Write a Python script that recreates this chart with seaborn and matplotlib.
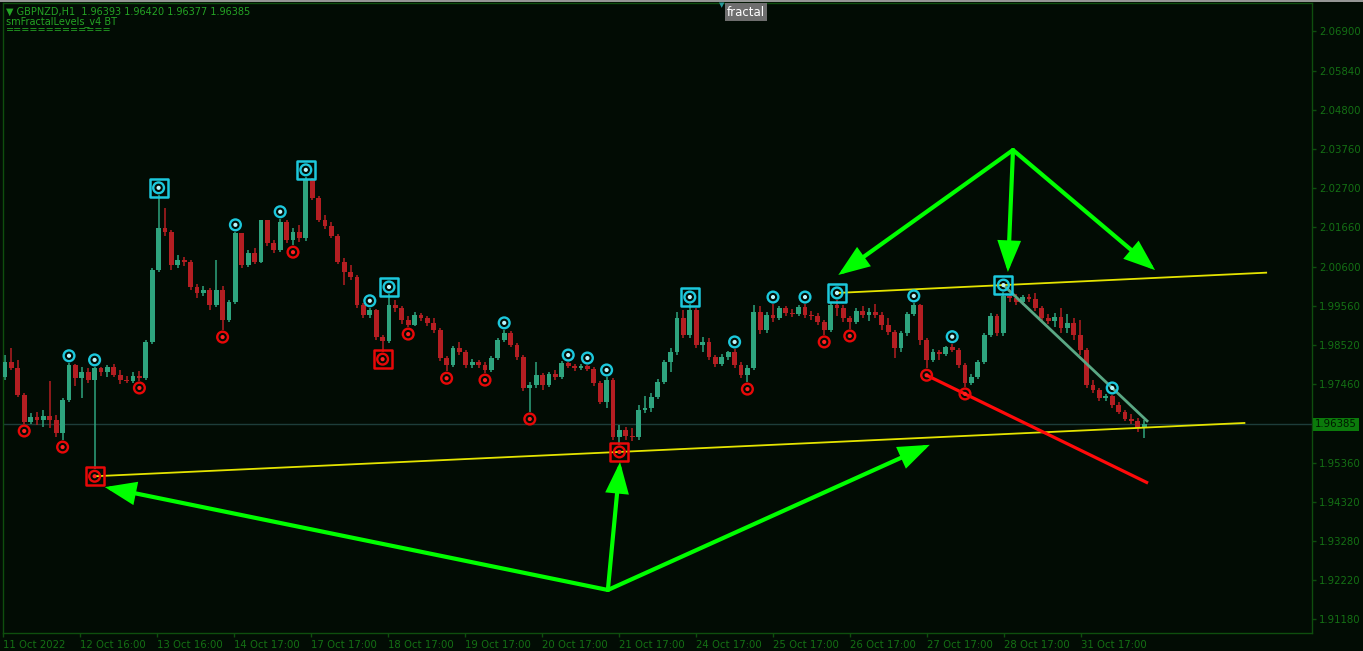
import numpy as np
import pandas as pd
import matplotlib
matplotlib.use("Agg")
import matplotlib.pyplot as plt
import seaborn as sns
from matplotlib.patches import FancyArrowPatch
from matplotlib.lines import Line2D
from matplotlib.transforms import blended_transform_factory

# ---------------- data (GBPNZD H1, two-hour candles) ----------------
first_open = 1.9765
closes = [1.9805, 1.9789, 1.9717, 1.9645, 1.9658, 1.9650, 1.9661, 1.9650, 1.9616, 1.9704,
          1.9797, 1.9763, 1.9779, 1.9757, 1.9789, 1.9779, 1.9792, 1.9771, 1.9757, 1.9755,
          1.9768, 1.9763, 1.9859, 2.0051, 2.0164, 2.0153, 2.0065, 2.0078, 2.0073, 2.0006,
          1.9990, 1.9998, 1.9958, 1.9998, 1.9918, 1.9966, 2.0150, 2.0065, 2.0097, 2.0073,
          2.0185, 2.0124, 2.0105, 2.0180, 2.0132, 2.0153, 2.0137, 2.0292, 2.0244, 2.0185,
          2.0169, 2.0142, 2.0073, 2.0046, 2.0033, 1.9958, 1.9931, 1.9944, 1.9872, 1.9862,
          1.9958, 1.9950, 1.9918, 1.9904, 1.9931, 1.9923, 1.9910, 1.9891, 1.9816, 1.9797,
          1.9843, 1.9832, 1.9797, 1.9805, 1.9797, 1.9784, 1.9816, 1.9864, 1.9883, 1.9851,
          1.9819, 1.9736, 1.9744, 1.9771, 1.9744, 1.9773, 1.9765, 1.9803, 1.9795, 1.9789,
          1.9795, 1.9787, 1.9749, 1.9699, 1.9757, 1.9605, 1.9624, 1.9608, 1.9605, 1.9677,
          1.9682, 1.9712, 1.9752, 1.9805, 1.9832, 1.9923, 1.9878, 1.9944, 1.9851, 1.9859,
          1.9819, 1.9800, 1.9819, 1.9832, 1.9797, 1.9771, 1.9789, 1.9939, 1.9891, 1.9931,
          1.9923, 1.9950, 1.9936, 1.9934, 1.9952, 1.9931, 1.9928, 1.9912, 1.9891, 1.9958,
          1.9950, 1.9923, 1.9912, 1.9942, 1.9931, 1.9939, 1.9931, 1.9904, 1.9886, 1.9843,
          1.9883, 1.9934, 1.9958, 1.9864, 1.9811, 1.9832, 1.9827, 1.9846, 1.9837, 1.9797,
          1.9749, 1.9765, 1.9805, 1.9878, 1.9928, 1.9883, 1.9982, 1.9976, 1.9966, 1.9979,
          1.9974, 1.9950, 1.9923, 1.9915, 1.9926, 1.9896, 1.9910, 1.9878, 1.9837, 1.9744,
          1.9731, 1.9709, 1.9715, 1.9690, 1.9672, 1.9653, 1.9648, 1.9629, 1.96385]
highs = [1.9824, 1.9843, 1.9811, 1.9723, 1.9669, 1.9672, 1.9677, 1.9755, 1.9664, 1.9709,
         1.9803, 1.9800, 1.9792, 1.9789, 1.9792, 1.9791, 1.9797, 1.9800, 1.9784, 1.9768,
         1.9779, 1.9781, 1.9864, 2.0057, 2.0252, 2.0217, 2.0158, 2.0091, 2.0086, 2.0078,
         2.0014, 2.0009, 2.0003, 2.0078, 2.0009, 1.9971, 2.0153, 2.0151, 2.0105, 2.0110,
         2.0185, 2.0186, 2.0132, 2.0188, 2.0185, 2.0164, 2.0172, 2.0300, 2.0297, 2.0249,
         2.0198, 2.0180, 2.0148, 2.0083, 2.0065, 2.0038, 1.9963, 1.9950, 1.9947, 1.9878,
         1.9987, 1.9971, 1.9955, 1.9928, 1.9939, 1.9936, 1.9928, 1.9923, 1.9896, 1.9821,
         1.9848, 1.9859, 1.9837, 1.9813, 1.9811, 1.9805, 1.9821, 1.9870, 1.9891, 1.9888,
         1.9856, 1.9824, 1.9752, 1.9805, 1.9776, 1.9779, 1.9784, 1.9808, 1.9805, 1.9800,
         1.9800, 1.9797, 1.9792, 1.9755, 1.9765, 1.9763, 1.9637, 1.9632, 1.9629, 1.9690,
         1.9715, 1.9723, 1.9760, 1.9811, 1.9843, 1.9939, 1.9944, 1.9960, 1.9950, 1.9872,
         1.9870, 1.9824, 1.9827, 1.9835, 1.9840, 1.9805, 1.9797, 1.9958, 1.9955, 1.9939,
         1.9960, 1.9955, 1.9955, 1.9947, 1.9958, 1.9960, 1.9942, 1.9936, 1.9918, 1.9966,
         1.9971, 1.9958, 1.9928, 1.9950, 1.9955, 1.9950, 1.9960, 1.9939, 1.9923, 1.9891,
         1.9888, 1.9939, 1.9963, 1.9960, 1.9870, 1.9840, 1.9837, 1.9848, 1.9854, 1.9843,
         1.9803, 1.9773, 1.9811, 1.9883, 1.9936, 1.9934, 1.9992, 1.9987, 1.9987, 1.9984,
         1.9987, 1.9990, 1.9955, 1.9934, 1.9936, 1.9950, 1.9934, 1.9923, 1.9918, 1.9843,
         1.9757, 1.9736, 1.9720, 1.9717, 1.9699, 1.9677, 1.9666, 1.9656, 1.9650]
lows = [1.9757, 1.9784, 1.9712, 1.9640, 1.9640, 1.9637, 1.9632, 1.9629, 1.9605, 1.9597,
        1.9699, 1.9741, 1.9709, 1.9749, 1.9519, 1.9768, 1.9765, 1.9765, 1.9747, 1.9749,
        1.9749, 1.9755, 1.9757, 1.9854, 2.0046, 2.0142, 2.0051, 2.0057, 2.0062, 1.9998,
        1.9976, 1.9982, 1.9944, 1.9952, 1.9891, 1.9912, 1.9960, 2.0057, 2.0059, 2.0067,
        2.0070, 2.0115, 2.0097, 2.0099, 2.0124, 2.0118, 2.0126, 2.0129, 2.0238, 2.0180,
        2.0161, 2.0137, 2.0067, 2.0011, 2.0025, 1.9950, 1.9923, 1.9923, 1.9864, 1.9832,
        1.9856, 1.9939, 1.9907, 1.9899, 1.9902, 1.9915, 1.9902, 1.9883, 1.9808, 1.9781,
        1.9792, 1.9824, 1.9789, 1.9789, 1.9789, 1.9776, 1.9779, 1.9811, 1.9859, 1.9846,
        1.9811, 1.9728, 1.9672, 1.9736, 1.9731, 1.9739, 1.9757, 1.9760, 1.9789, 1.9781,
        1.9784, 1.9781, 1.9741, 1.9693, 1.9682, 1.9597, 1.9584, 1.9597, 1.9594, 1.9597,
        1.9669, 1.9672, 1.9707, 1.9747, 1.9779, 1.9824, 1.9870, 1.9870, 1.9843, 1.9832,
        1.9811, 1.9792, 1.9795, 1.9811, 1.9789, 1.9763, 1.9752, 1.9784, 1.9880, 1.9883,
        1.9912, 1.9918, 1.9928, 1.9926, 1.9928, 1.9923, 1.9918, 1.9904, 1.9878, 1.9886,
        1.9928, 1.9912, 1.9894, 1.9907, 1.9923, 1.9915, 1.9923, 1.9891, 1.9878, 1.9816,
        1.9832, 1.9875, 1.9928, 1.9851, 1.9789, 1.9805, 1.9811, 1.9821, 1.9832, 1.9789,
        1.9739, 1.9744, 1.9760, 1.9800, 1.9872, 1.9875, 1.9875, 1.9966, 1.9958, 1.9958,
        1.9966, 1.9942, 1.9915, 1.9907, 1.9899, 1.9883, 1.9883, 1.9864, 1.9824, 1.9736,
        1.9723, 1.9701, 1.9701, 1.9682, 1.9666, 1.9648, 1.9640, 1.9618, 1.9602]

fractal_high_idx = [10, 14, 36, 43, 57, 78, 88, 91, 94, 114, 120, 125, 142, 148, 173]
fractal_high_box_idx = [24, 47, 60, 107, 130, 156]
fractal_low_idx = [3, 9, 21, 34, 45, 63, 69, 75, 82, 116, 128, 132, 144, 150]
fractal_low_box_idx = [14, 59, 96]

# trend lines: (kind, first fractal, second fractal, extend-to bar)
trend_kinds = ["low", "high", "low", "high"]
trend_anchors = [(14, 96), (130, 156), (144, 150), (156, 173)]
trend_ends = [193.8, 197.2, 178.6, 178.6]

# hand-drawn call-out arrows (tail, head) in (bar, price)
callouts = [((94.2, 1.9196), (15.6, 1.9471)),
            ((94.2, 1.9196), (96.1, 1.9538)),
            ((94.2, 1.9196), (144.5, 1.9584)),
            ((157.5, 2.0372), (130.2, 2.0038)),
            ((157.5, 2.0372), (156.7, 2.0046)),
            ((157.5, 2.0372), (179.7, 2.0051))]

x_tick_labels = ["11 Oct 2022", "12 Oct 16:00", "13 Oct 16:00", "14 Oct 17:00", "17 Oct 17:00",
                 "18 Oct 17:00", "19 Oct 17:00", "20 Oct 17:00", "21 Oct 17:00", "24 Oct 17:00",
                 "25 Oct 17:00", "26 Oct 17:00", "27 Oct 17:00", "28 Oct 17:00", "31 Oct 17:00"]
y_tick_values = [2.06900, 2.05840, 2.04800, 2.03760, 2.02700, 2.01660, 2.00600, 1.99560,
                 1.98520, 1.97460, 1.95360, 1.94320, 1.93280, 1.92220, 1.91180]
current_price = 1.96385
header_text = "\u25bc GBPNZD,H1  1.96393 1.96420 1.96377 1.96385"

# ---------------- styling ----------------
BG = "#020c04"
FRAME = "#0e4e0e"
TICKTXT = "#147014"
BULL = "#2ea47e"
BEAR = "#b41e22"
CYAN = "#1cc8dc"
RED = "#e80808"
YELLOW = "#e4e400"
LIME = "#00ff00"
TEAL = "#5aa884"
OFF = 0.0019  # marker offset from the candle extreme

sns.set_theme(style="dark")
plt.rcParams["font.family"] = ["DejaVu Sans"]

W_PX, H_PX = 1363, 651
fig = plt.figure(figsize=(W_PX / 100, H_PX / 100), dpi=100, facecolor=BG)
left, right, top, bottom = 3, 1312, 3, 633
ax = fig.add_axes([left / W_PX, 1 - bottom / H_PX, (right - left) / W_PX, (bottom - top) / H_PX])
ax.set_facecolor(BG)
ax.grid(False)

df = pd.DataFrame({"close": closes, "high": highs, "low": lows})
df["open"] = [first_open] + closes[:-1]
df["bar"] = np.arange(len(df))
df["bull"] = df["close"] >= df["open"]
colors = np.where(df["bull"], BULL, BEAR)

# current price line
ax.axhline(current_price, color="#1d3d3a", lw=1.0, zorder=1)

# candles
ax.vlines(df["bar"], df["low"], df["high"], colors=colors, lw=1.1, zorder=2)
body_lo = np.minimum(df["open"], df["close"])
body_h = np.maximum(np.abs(df["close"] - df["open"]), 0.00025)
ax.bar(df["bar"], body_h, bottom=body_lo, width=0.72, color=colors, linewidth=0, zorder=3)

# trend / level lines through fractal markers
trend_styles = [dict(color=YELLOW, lw=1.3), dict(color=YELLOW, lw=1.3),
                dict(color="#ff0a0a", lw=2.3), dict(color=TEAL, lw=2.0)]
for kind, (a, b), xe, st in zip(trend_kinds, trend_anchors, trend_ends, trend_styles):
    if kind == "low":
        ya, yb = lows[a] - OFF, lows[b] - OFF
    else:
        ya, yb = highs[a] + OFF, highs[b] + OFF
    ye = ya + (yb - ya) * (xe - a) / (b - a)
    ax.plot([a, xe], [ya, ye], solid_capstyle="butt", zorder=4, **st)

# fractal markers
mk = pd.DataFrame(
    {"bar": fractal_high_idx + fractal_high_box_idx + fractal_low_idx + fractal_low_box_idx,
     "price": [highs[i] + OFF for i in fractal_high_idx + fractal_high_box_idx]
              + [lows[i] - OFF for i in fractal_low_idx + fractal_low_box_idx],
     "side": ["high"] * (len(fractal_high_idx) + len(fractal_high_box_idx))
             + ["low"] * (len(fractal_low_idx) + len(fractal_low_box_idx)),
     "box": [False] * len(fractal_high_idx) + [True] * len(fractal_high_box_idx)
            + [False] * len(fractal_low_idx) + [True] * len(fractal_low_box_idx)})

for side, col, dot in [("high", CYAN, "#b8f6ff"), ("low", RED, "#ff2020")]:
    sub = mk[mk["side"] == side]
    sns.scatterplot(data=sub, x="bar", y="price", ax=ax, marker="o", s=60,
                    facecolor="none", edgecolor=col, linewidth=1.7, zorder=6, legend=False)
    sns.scatterplot(data=sub, x="bar", y="price", ax=ax, marker="o", s=9,
                    color=dot, edgecolor="none", linewidth=0, zorder=7, legend=False)
    subb = sub[sub["box"]]
    sns.scatterplot(data=subb, x="bar", y="price", ax=ax, marker="s", s=165,
                    facecolor="none", edgecolor=col, linewidth=1.8, zorder=6, legend=False)

# call-out arrows
for tail, head in callouts:
    ax.add_patch(FancyArrowPatch(tail, head, arrowstyle="-|>,head_length=0.85,head_width=0.32",
                                 mutation_scale=20, lw=3.0, color=LIME, shrinkA=0, shrinkB=0,
                                 joinstyle="miter", capstyle="round", zorder=8))

# axes
ax.set_xlim((left - 5) / 6.4, (right - 5) / 6.4)
ax.set_ylim(1.9081, 2.0765)
ax.set_xlabel("")
ax.set_ylabel("")
x_ticks = np.arange(len(x_tick_labels)) * 12.03 - 0.31
ax.set_xticks(x_ticks)
ax.set_xticklabels(x_tick_labels)
for lab in ax.get_xticklabels():
    lab.set_horizontalalignment("left")
ax.yaxis.tick_right()
ax.set_yticks(y_tick_values)
ax.set_yticklabels([f"{v:.5f}" for v in y_tick_values])
ax.tick_params(axis="both", which="both", direction="out", length=3, width=1,
               color=FRAME, labelcolor=TICKTXT, labelsize=7.3, pad=2,
               bottom=True, right=True, left=False, top=False)
for s in ax.spines.values():
    s.set_visible(True)
    s.set_color(FRAME)
    s.set_linewidth(1.0)

# current price tag on the price scale
trans = blended_transform_factory(ax.transAxes, ax.transData)
ax.text(1.0024, current_price, f"{current_price:.5f}", transform=trans, ha="left", va="center",
        fontsize=7.3, color="#001800", clip_on=False, zorder=10,
        bbox=dict(boxstyle="square,pad=0.18", fc="#0b7a0b", ec="none"))

# header texts
fig.text(6 / W_PX, 1 - 12 / H_PX, header_text, color="#24a424", fontsize=7, va="center", ha="left")
fig.text(6 / W_PX, 1 - 22 / H_PX, "smFractalLevels_v4 BT", color="#24a424", fontsize=7,
         va="center", ha="left")
fig.text(6 / W_PX, 1 - 30 / H_PX, "=============", color="#24a424", fontsize=7,
         va="center", ha="left")
fig.text(746 / W_PX, 1 - 12 / H_PX, "fractal", color="white", fontsize=8.5, va="center",
         ha="center", bbox=dict(boxstyle="square,pad=0.18", fc="#6e6e6e", ec="none"))
fig.text(722 / W_PX, 1 - 5 / H_PX, "\u25bc", color="#2a9a9a", fontsize=5, va="center", ha="center")
fig.add_artist(Line2D([0, 1], [1 - 0.8 / H_PX] * 2, transform=fig.transFigure,
                      color="#9a9a9a", lw=1.4))

fig.savefig("out.png", dpi=100, facecolor=BG)
